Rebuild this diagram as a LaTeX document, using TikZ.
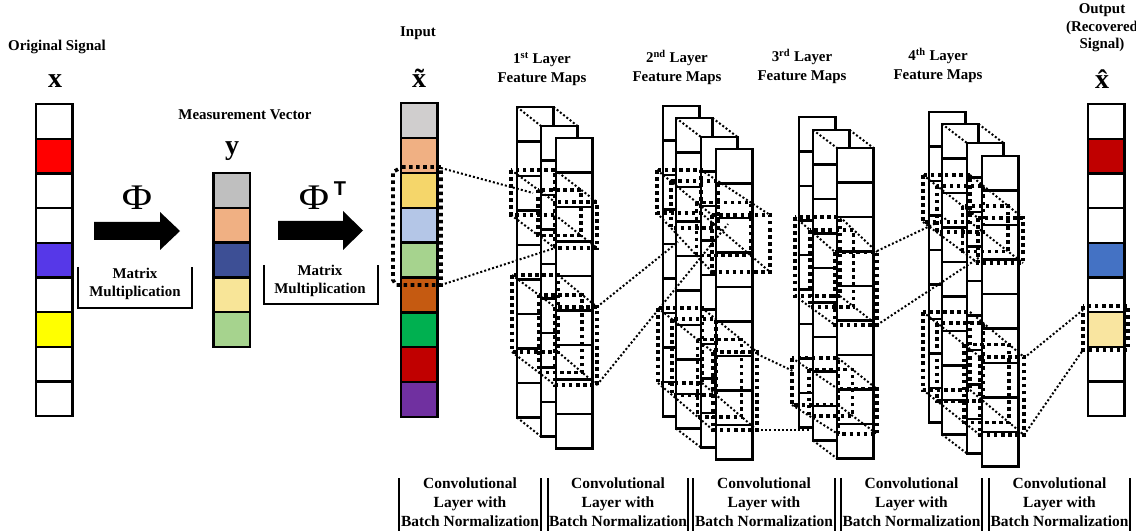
\documentclass[tikz,border=0pt]{standalone}
\usepackage{fontspec}
\setmainfont{Liberation Serif}
\newfontfamily\tsans{Liberation Sans}
\usepackage{graphicx}
\definecolor{sigred}{HTML}{FF0000}
\definecolor{sigblue}{HTML}{5638E8}
\definecolor{sigyel}{HTML}{FFFF00}
\definecolor{ygray}{HTML}{BFBFBF}
\definecolor{ypeach}{HTML}{F0B083}
\definecolor{ydblue}{HTML}{3D4F95}
\definecolor{yyel}{HTML}{F8E598}
\definecolor{ygreen}{HTML}{A6D38E}
\definecolor{igray}{HTML}{D0CECE}
\definecolor{igold}{HTML}{F5D66A}
\definecolor{iblue}{HTML}{B4C6E7}
\definecolor{ibrown}{HTML}{C55A11}
\definecolor{igreen}{HTML}{00B050}
\definecolor{idred}{HTML}{C00000}
\definecolor{ipurple}{HTML}{7030A0}
\definecolor{oblue}{HTML}{4472C4}
\definecolor{oyel}{HTML}{F9E5A0}
\newcommand\mycol[4]{%
  \foreach \cc [count=\ii from 0] in {#4} {
    \filldraw[cellbox,fill=\cc] (#1,{#2+\ii*#3}) rectangle ({#1+36.5},{#2+(\ii+1)*#3});
  }}
\newcommand\fmcol[2]{\mycol{#1}{#2}{34.5}{white,white,white,white,white,white,white,white,white}}
\newcommand\kernelbox[9]{%
  \foreach \t in {#1}{%
    \pgfmathsetmacro\kax{#2+(#6-#2)*\t}
    \pgfmathsetmacro\kay{#3+(#7-#3)*\t}
    \pgfmathsetmacro\kbx{#4+(#8-#4)*\t}
    \pgfmathsetmacro\kby{#5+(#9-#5)*\t}
    \draw[kern] (\kax,\kay) rectangle (\kbx,\kby);
  }
  \draw[fine] (#2,#3)--(#6,#7) (#4,#3)--(#8,#7) (#2,#5)--(#6,#9) (#4,#5)--(#8,#9);
}
\begin{document}
\begin{tikzpicture}[x=0.75pt,y=-0.75pt,
  cellbox/.style={draw=black,line width=1.7pt},
  kern/.style={line width=2.7pt,dash pattern=on 2.7pt off 2.6pt},
  fine/.style={line width=1.5pt,dash pattern=on 1.5pt off 1.6pt},
  lbl/.style={font=\fontsize{11.2pt}{14pt}\selectfont\bfseries,align=center,inner sep=0pt},
  blbl/.style={font=\fontsize{11.6pt}{14.2pt}\selectfont\bfseries,align=center,inner sep=0pt},
  sym/.style={font=\fontsize{21pt}{21pt}\selectfont\bfseries,inner sep=0pt},
  phisym/.style={font=\fontsize{27pt}{27pt}\selectfont,inner sep=0pt},
  brk/.style={line width=1.6pt},
  persp/.style={fine}
]
\useasboundingbox (0,0) rectangle (1136,531);

% ---------- original signal ----------
\node[lbl] (tos) at (57,47) {Original Signal};
\node[sym] (tx) at (55,81) {x};
\mycol{36}{104}{34.7}{white,sigred,white,white,sigblue,white,sigyel,white,white}

% ---------- arrow Phi ----------
\fill (94,222)--(160,222)--(160,212)--(180,231)--(160,250)--(160,240)--(94,240)--cycle;
\node[phisym] (phi1) at (137,198) {\scalebox{1.15}[1]{Φ}};
\draw[brk] (78,267)--(78,308)--(192,308)--(192,267);
\node[lbl,font=\fontsize{11.2pt}{13.5pt}\selectfont\bfseries] (mm1) at (135,284) {Matrix\\Multiplication};

% ---------- measurement vector ----------
\node[lbl] (tmv) at (245,115) {Measurement Vector};
\node[sym] (ty) at (232,151) {y};
\mycol{213.5}{173}{34.8}{ygray,ypeach,ydblue,yyel,ygreen}

% ---------- arrow Phi^T ----------
\fill (278,221)--(343,221)--(343,211)--(363,230.5)--(343,250)--(343,240)--(278,240)--cycle;
\node[phisym] (phi2) at (314,198) {\scalebox{1.15}[1]{Φ}};
\node[inner sep=0pt,font=\fontsize{15pt}{15pt}\selectfont\tsans\bfseries] (tT) at (340,189) {T};
\draw[brk] (264,265)--(264,304)--(378,304)--(378,265);
\node[lbl,font=\fontsize{11.2pt}{13.5pt}\selectfont\bfseries] (mm2) at (320,281) {Matrix\\Multiplication};

% ---------- input ----------
\node[lbl] (tin) at (418,33) {Input};
\node[sym] (txt) at (419,78) {\~{x}};
\mycol{401}{103}{34.9}{igray,ypeach,igold,iblue,ygreen,ibrown,igreen,idred,ipurple}

% ---------- layer 1 ----------
\node[lbl] (tl1) at (542,69) {1\textsuperscript{st} Layer\\Feature Maps};
\fmcol{517}{107}
\fmcol{541}{126}
\fmcol{556}{138}
\draw[persp] (517,107)--(541,126) (553.5,107)--(577.5,126) (517,417.5)--(541,436.5);

% ---------- layer 2 ----------
\node[lbl] (tl2) at (677,67) {2\textsuperscript{nd} Layer\\Feature Maps};
\fmcol{663}{106}
\fmcol{676}{118}
\fmcol{701}{137}
\fmcol{716}{149}
\draw[persp] (676,118)--(701,137) (712.5,118)--(737.5,137) (676,428.5)--(701,447.5);

% ---------- layer 3 ----------
\node[lbl] (tl3) at (802,66) {3\textsuperscript{rd} Layer\\Feature Maps};
\fmcol{799}{117}
\fmcol{813}{130}
\fmcol{837}{148}
\draw[persp] (813,130)--(837,148) (849.5,130)--(873.5,148) (813,440.5)--(837,458.5);

% ---------- layer 4 ----------
\node[lbl] (tl4) at (938,65) {4\textsuperscript{th} Layer\\Feature Maps};
\fmcol{929}{112}
\fmcol{942}{124}
\fmcol{967}{143}
\fmcol{982}{156}
\draw[persp] (942,124)--(967,143) (978.5,124)--(1003.5,143) (942,434.5)--(967,453.5);

% ---------- output ----------
\node[lbl,font=\fontsize{11.2pt}{13.2pt}\selectfont\bfseries] (tout) at (1102,28) {Output\\(Recovered\\Signal)};
\node[sym] (txh) at (1102,79) {\^{x}};
\mycol{1088}{104}{34.7}{white,idred,white,white,oblue,white,oyel,white,white}

% ---------- kernels ----------
\draw[kern] (402,167)--(441,167)--(441,285)--(396,285)--(393,280)--(393,172)--cycle;
\kernelbox{0,0.62,1}{511}{170}{555}{215}{555}{202}{597}{248}
\kernelbox{0,0.62,1}{512}{275}{558}{352}{555}{307}{597}{385}
\kernelbox{0,0.25,0.72,1}{657}{170}{701}{213}{712}{215}{770}{272}
\kernelbox{0,0.25,0.72,1}{658}{308}{702}{383}{713}{352}{757}{430}
\kernelbox{0,0.37,1}{795}{217}{840}{296}{835}{252}{877}{325}
\kernelbox{0,0.37,1}{792}{358}{838}{405}{838}{389}{877}{434}
\kernelbox{0,0.25,0.72,1}{923}{175}{970}{222}{978}{218}{1023}{263}
\kernelbox{0,0.25,0.72,1}{923}{312}{970}{390}{980}{357}{1024}{435}
\draw[kern] (1083,306) rectangle (1128,350);

% ---------- connectors ----------
\coordinate (c1a) at (441,168); \coordinate (c1b) at (533,193);
\coordinate (c2a) at (441,285); \coordinate (c2b) at (555,248);
\coordinate (c3a) at (597,307); \coordinate (c3b) at (678,242);
\coordinate (c4a) at (597,385); \coordinate (c4b) at (728,224);
\coordinate (c5a) at (757,354); \coordinate (c5b) at (793,371);
\coordinate (c6a) at (757,430); \coordinate (c6b) at (810,430);
\coordinate (c7a) at (877,251); \coordinate (c7b) at (947,218);
\coordinate (c8a) at (877,325); \coordinate (c8b) at (980,257);
\coordinate (c9a) at (1024,358); \coordinate (c9b) at (1083,310);
\coordinate (c10a) at (1024,435); \coordinate (c10b) at (1083,350);
\foreach \k in {1,...,10} {\draw[fine] (c\k a)--(c\k b);}

% ---------- bottom brackets ----------
\foreach \l/\r [count=\n] in {399/541,548/688,693/835,841/982,989/1130} {
  \draw[brk] (\l,478)--(\l,531) (\r,478)--(\r,531);
  \node[blbl] (conv\n) at ({(\l+\r)/2},502) {Convolutional\\Layer with\\Batch Normalization};
}
\end{tikzpicture}
\end{document}
